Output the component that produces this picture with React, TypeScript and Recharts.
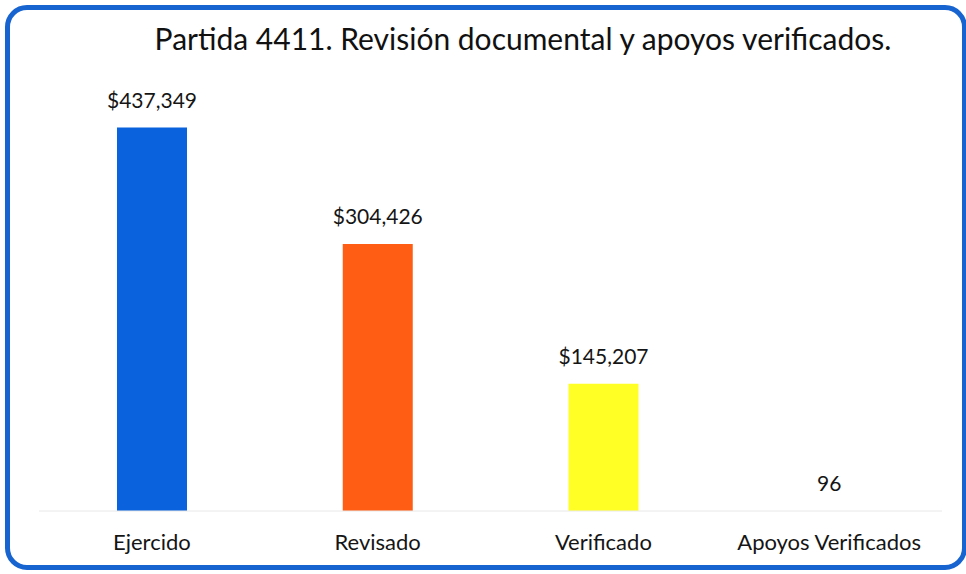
import { Bar, BarChart, Cell, LabelList, XAxis, YAxis } from 'recharts'

const categories = ['Ejercido', 'Revisado', 'Verificado', 'Apoyos Verificados']
const values = [437349, 304426, 145207, 96]
const valueLabels = ['$437,349', '$304,426', '$145,207', '96']
const barColors = ['#0a63dc', '#ff5c14', '#ffff26', '#a6a6a6']

const data = categories.map((name, i) => ({ name, value: values[i], label: valueLabels[i] }))

const FONT = 'Lato, "Open Sans", sans-serif'

const CategoryTick = (props: any) => {
  const { x, y, payload } = props
  return (
    <text x={x} y={y + 25} textAnchor="middle" dominantBaseline="middle" fontSize={22} fill="#151515" fontFamily={FONT}>
      {payload.value}
    </text>
  )
}

const ValueLabel = (props: any) => {
  const { x, y, width, index } = props
  return (
    <text x={x + width / 2} y={y - 25} textAnchor="middle" dominantBaseline="middle" fontSize={21} fill="#151515" fontFamily={FONT}>
      {valueLabels[index]}
    </text>
  )
}

export default function App() {
  return (
    <div style={{ position: 'absolute', left: 0, top: 0, width: 966, height: 574, background: '#fff', overflow: 'hidden' }}>
      <div
        style={{
          position: 'absolute',
          left: 5,
          top: 5,
          width: 952,
          height: 555,
          border: '5px solid #1763cf',
          borderRadius: 22
        }}
      />
      <div
        style={{
          position: 'absolute',
          left: 0,
          width: 1046,
          top: 20,
          textAlign: 'center',
          fontFamily: FONT,
          fontSize: 30,
          color: '#111',
          whiteSpace: 'nowrap'
        }}
      >
        Partida 4411. Revisión documental y apoyos verificados.
      </div>
      <div style={{ position: 'absolute', left: 0, top: 0 }}>
        <BarChart width={966} height={574} data={data} margin={{ top: 90, right: 24, bottom: 23, left: 39 }} barSize={70}>
          <XAxis
            dataKey="name"
            height={40}
            axisLine={{ stroke: '#e8e8e8' }}
            tickLine={false}
            tick={<CategoryTick />}
            interval={0}
          />
          <YAxis hide domain={[0, 480000]} />
          <Bar dataKey="value" isAnimationActive={false}>
            {data.map((d, i) => (
              <Cell key={d.name} fill={barColors[i]} />
            ))}
            <LabelList dataKey="label" content={<ValueLabel />} />
          </Bar>
        </BarChart>
      </div>
    </div>
  )
}
